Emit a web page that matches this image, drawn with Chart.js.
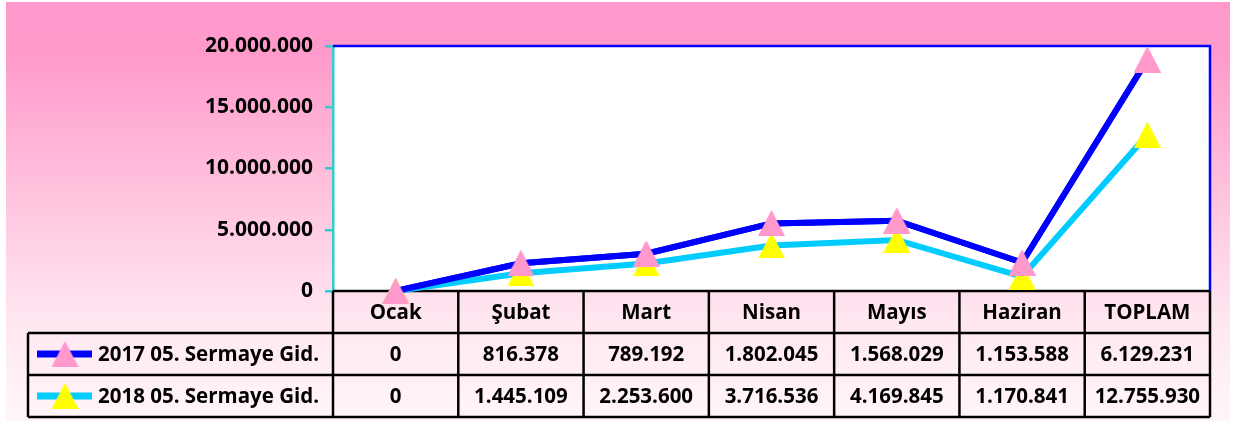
<!DOCTYPE html>
<html>
<head>
<meta charset="utf-8">
<script src="https://cdn.jsdelivr.net/npm/chart.js@4.4.1/dist/chart.umd.min.js"></script>
<style>
  html, body { margin: 0; background: #fff; }
  canvas { display: block; }
</style>
</head>
<body>
<canvas id="chart" width="1236" height="421"></canvas>
<script>
const months = ['Ocak', 'Şubat', 'Mart', 'Nisan', 'Mayıs', 'Haziran', 'TOPLAM'];
const gid2017 = [0, 816378, 789192, 1802045, 1568029, 1153588, 6129231];
const gid2018 = [0, 1445109, 2253600, 3716536, 4169845, 1170841, 12755930];
const label2017 = '2017 05. Sermaye Gid.';
const label2018 = '2018 05. Sermaye Gid.';
const yMax = 20000000;
const yStep = 5000000;

const FONT = '"Open Sans", sans-serif';
const fmt = v => String(v).replace(/\B(?=(\d{3})+(?!\d))/g, '.');

// excel style triangle marker
function triangle(fill) {
  const c = document.createElement('canvas');
  c.width = 27; c.height = 26;
  const g = c.getContext('2d');
  g.fillStyle = fill;
  g.beginPath();
  g.moveTo(13.5, 0);
  g.lineTo(27, 26);
  g.lineTo(0, 26);
  g.closePath();
  g.fill();
  return c;
}
const triPink = triangle('#FF99CC');
const triYellow = triangle('#FFFF00');

const rows = [
  { label: label2017, values: gid2017, color: '#0000FF', marker: triPink },
  { label: label2018, values: gid2018, color: '#00CCFF', marker: triYellow },
];

const ROW_H = 42;
const TABLE_LEFT = 28;

const background = {
  id: 'background',
  beforeDraw(chart) {
    const { ctx, chartArea: a } = chart;
    ctx.save();
    const grad = ctx.createLinearGradient(0, 2, 0, chart.height);
    grad.addColorStop(0, '#FF99CC');
    grad.addColorStop(0.12, '#FF9ACB');
    grad.addColorStop(0.45, '#FFC2DD');
    grad.addColorStop(0.75, '#FFE6F1');
    grad.addColorStop(1, '#FFF6FA');
    ctx.fillStyle = grad;
    ctx.fillRect(6, 2, 1224, chart.height - 2);
    ctx.fillStyle = '#fff';
    ctx.fillRect(a.left, a.top, a.right - a.left, a.bottom - a.top);
    ctx.restore();
  }
};

const dataTable = {
  id: 'dataTable',
  beforeDatasetsDraw(chart) {
    const { ctx, chartArea: a, scales: { x } } = chart;
    const half = (x.getPixelForValue(1) - x.getPixelForValue(0)) / 2;
    ctx.save();

    // blue frame top / right
    ctx.strokeStyle = '#0000FF';
    ctx.lineWidth = 2.5;
    ctx.beginPath();
    ctx.moveTo(a.left, a.top);
    ctx.lineTo(a.right, a.top);
    ctx.lineTo(a.right, a.bottom);
    ctx.stroke();

    const y0 = a.bottom, y1 = y0 + ROW_H, y2 = y1 + ROW_H, y3 = y2 + ROW_H;
    ctx.strokeStyle = '#000';
    ctx.lineWidth = 2.5;
    ctx.beginPath();
    ctx.moveTo(a.left, y0); ctx.lineTo(a.right, y0);
    ctx.moveTo(TABLE_LEFT, y1); ctx.lineTo(a.right, y1);
    ctx.moveTo(TABLE_LEFT, y2); ctx.lineTo(a.right, y2);
    ctx.moveTo(TABLE_LEFT, y3); ctx.lineTo(a.right, y3);
    ctx.moveTo(TABLE_LEFT, y1); ctx.lineTo(TABLE_LEFT, y3);
    ctx.moveTo(a.left, y0); ctx.lineTo(a.left, y3);
    months.forEach((m, i) => {
      const r = x.getPixelForValue(i) + half;
      ctx.moveTo(r, y0); ctx.lineTo(r, y3);
    });
    ctx.stroke();

    ctx.fillStyle = '#000';
    ctx.font = 'bold 20.5px ' + FONT;
    ctx.textAlign = 'center';
    ctx.textBaseline = 'middle';
    months.forEach((m, i) => {
      const cx = x.getPixelForValue(i);
      ctx.fillText(m, cx, (y0 + y1) / 2 + 1);
      rows.forEach((row, k) => {
        const cy = y1 + ROW_H * k + ROW_H / 2 + 1;
        ctx.fillText(fmt(row.values[i]), cx, cy);
      });
    });

    // legend keys
    rows.forEach((row, k) => {
      const cy = y1 + ROW_H * k + ROW_H / 2;
      ctx.fillStyle = row.color;
      ctx.fillRect(37, cy - 3.5, 55, 7);
      ctx.drawImage(row.marker, 65 - 13.5, cy - 13);
      ctx.fillStyle = '#000';
      ctx.textAlign = 'left';
      ctx.fillText(row.label, 98, cy + 1);
    });
    ctx.restore();
  },
  afterDatasetsDraw(chart) {
    // 2017 series sits on top of the 2018 one in the picture
    chart.getDatasetMeta(1).controller.draw();
  }
};

new Chart(document.getElementById('chart'), {
  type: 'line',
  data: {
    labels: months,
    datasets: [
      {
        label: label2018,
        data: gid2018,
        borderColor: '#00CCFF',
        backgroundColor: '#FFFF00',
        borderWidth: 6,
        pointStyle: triYellow,
        tension: 0,
        clip: false,
      },
      {
        label: label2017,
        data: gid2017,
        borderColor: '#0000FF',
        backgroundColor: '#FF99CC',
        borderWidth: 6,
        pointStyle: triPink,
        tension: 0,
        clip: false,
      },
    ],
  },
  options: {
    responsive: false,
    animation: false,
    devicePixelRatio: 1,
    layout: { padding: { top: 46, right: 26, bottom: 130, left: 0 } },
    plugins: {
      legend: { display: false },
      tooltip: { enabled: false },
    },
    scales: {
      x: { display: false, offset: true },
      y: {
        stacked: true,
        min: 0,
        max: yMax,
        ticks: {
          stepSize: yStep,
          callback: v => fmt(v),
          color: '#000',
          padding: 12,
          font: { family: FONT, size: 21, weight: 'bold' },
        },
        grid: { drawOnChartArea: false, color: '#33CCCC', tickLength: 8, lineWidth: 2.5 },
        border: { color: '#33CCCC', width: 2.5 },
        afterFit(scale) { scale.width = 333; },
      },
    },
  },
  plugins: [background, dataTable],
});
</script>
</body>
</html>
